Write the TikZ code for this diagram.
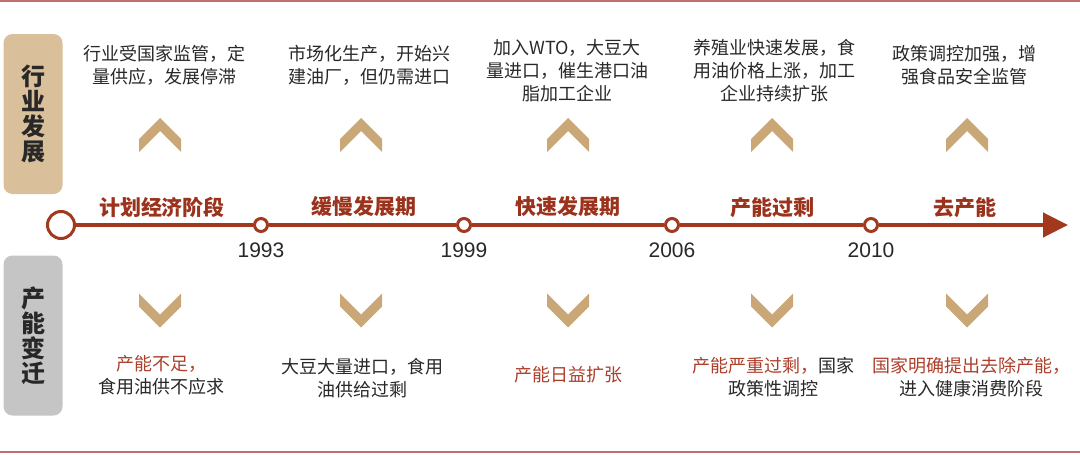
\documentclass[tikz,border=0pt]{standalone}
\usepackage{fontspec}
\setmainfont{Noto Sans CJK SC}
\newfontfamily\yearfont{Liberation Sans}
\usetikzlibrary{arrows.meta}
\definecolor{linered}{RGB}{162,56,30}
\definecolor{phasered}{RGB}{155,50,28}
\definecolor{notered}{RGB}{172,62,42}
\definecolor{framered}{RGB}{192,112,112}
\definecolor{boxtan}{RGB}{217,191,154}
\definecolor{chevtan}{RGB}{201,167,118}
\definecolor{boxgray}{RGB}{197,197,197}
\definecolor{txtgray}{RGB}{40,40,40}
\tikzstyle{sidebox}=[rounded corners=9pt, minimum width=59pt, minimum height=160pt, inner sep=0pt, align=center, text=txtgray, font=\fontsize{24}{25}\selectfont\bfseries]
\tikzstyle{phase}=[text=phasered, inner sep=0pt, font=\fontsize{21}{24}\selectfont\bfseries]
\tikzstyle{year}=[text=txtgray, inner sep=0pt, font=\yearfont\fontsize{21}{24}\selectfont]
\tikzstyle{note}=[align=center, text=txtgray, inner sep=0pt, font=\fontsize{18}{23}\selectfont]
\tikzstyle{dot}=[circle, draw=linered, line width=3pt, fill=white, minimum size=13pt, inner sep=0pt]
\tikzstyle{bigdot}=[dot, minimum size=27pt]
\tikzstyle{tline}=[draw=linered, line width=4.5pt]
\tikzstyle{frame}=[draw=framered, line width=2pt]
\newcommand\upchev[1]{\fill[chevtan] (#1,135) ++(0,-17) -- ++(-21,21) -- ++(0,13) -- ++(21,-21) -- ++(21,21) -- ++(0,-13) -- cycle;}
\newcommand\downchev[1]{\fill[chevtan] (#1,310.5) ++(0,17) -- ++(-21,-21) -- ++(0,-13) -- ++(21,21) -- ++(21,-21) -- ++(0,13) -- cycle;}

\begin{document}
\begin{tikzpicture}[x=1pt,y=-1pt]
    \useasboundingbox (0,0) rectangle (1080,455);
    \draw[frame] (0,1) -- (1080,1);
    \draw[frame] (0,452) -- (1080,452);
    % side labels
    \node[sidebox, fill=boxtan] (ind) at (33,114) {行\\业\\发\\展};
    \node[sidebox, fill=boxgray] (cap) at (33,335.5) {产\\能\\变\\迁};
    % timeline
    \node[bigdot] (start) at (61,225) {};
    \node[dot] (d1993) at (261,225) {};
    \node[dot] (d1999) at (464,225) {};
    \node[dot] (d2006) at (672,225) {};
    \node[dot] (d2010) at (871,225) {};
    \coordinate (tip) at (1068,225);
    \draw[tline] (start) -- (d1993);
    \draw[tline] (d1993) -- (d1999);
    \draw[tline] (d1999) -- (d2006);
    \draw[tline] (d2006) -- (d2010);
    \draw[tline, -{Triangle[length=25pt,width=24pt]}] (d2010) -- (tip);
    \node[year] (y1993) at (261,250) {1993};
    \node[year] (y1999) at (464,250) {1999};
    \node[year] (y2006) at (672,250) {2006};
    \node[year] (y2010) at (871,250) {2010};
    \node[phase] (p1) at (162,207) {计划经济阶段};
    \node[phase] (p2) at (364,207) {缓慢发展期};
    \node[phase] (p3) at (568,207) {快速发展期};
    \node[phase] (p4) at (772,208) {产能过剩};
    \node[phase] (p5) at (965,208) {去产能};
    % chevrons
    \upchev{160} \upchev{361} \upchev{568} \upchev{772} \upchev{967}
    \downchev{160} \downchev{361} \downchev{568} \downchev{772} \downchev{967}
    % industry notes
    \node[note] (top1) at (164,65) {行业受国家监管，定\\量供应，发展停滞};
    \node[note] (top2) at (369,65) {市场化生产，开始兴\\建油厂，但仍需进口};
    \node[note] (top3) at (567,71) {加入WTO，大豆大\\量进口，催生港口油\\脂加工企业};
    \node[note] (top4) at (774,71) {养殖业快速发展，食\\用油价格上涨，加工\\企业持续扩张};
    \node[note] (top5) at (964,65) {政策调控加强，增\\强食品安全监管};
    % capacity notes
    \node[note] (bot1) at (161,375) {{\color{notered}产能不足，}\\食用油供不应求};
    \node[note] (bot2) at (362,378) {大豆大量进口，食用\\油供给过剩};
    \node[note] (bot3) at (568,375) {{\color{notered}产能日益扩张}};
    \node[note] (bot4) at (773,377) {{\color{notered}产能严重过剩，}国家\\政策性调控};
    \node[note] (bot5) at (971,377) {{\color{notered}国家明确提出去除产能，}\\进入健康消费阶段};
\end{tikzpicture}
\end{document}
